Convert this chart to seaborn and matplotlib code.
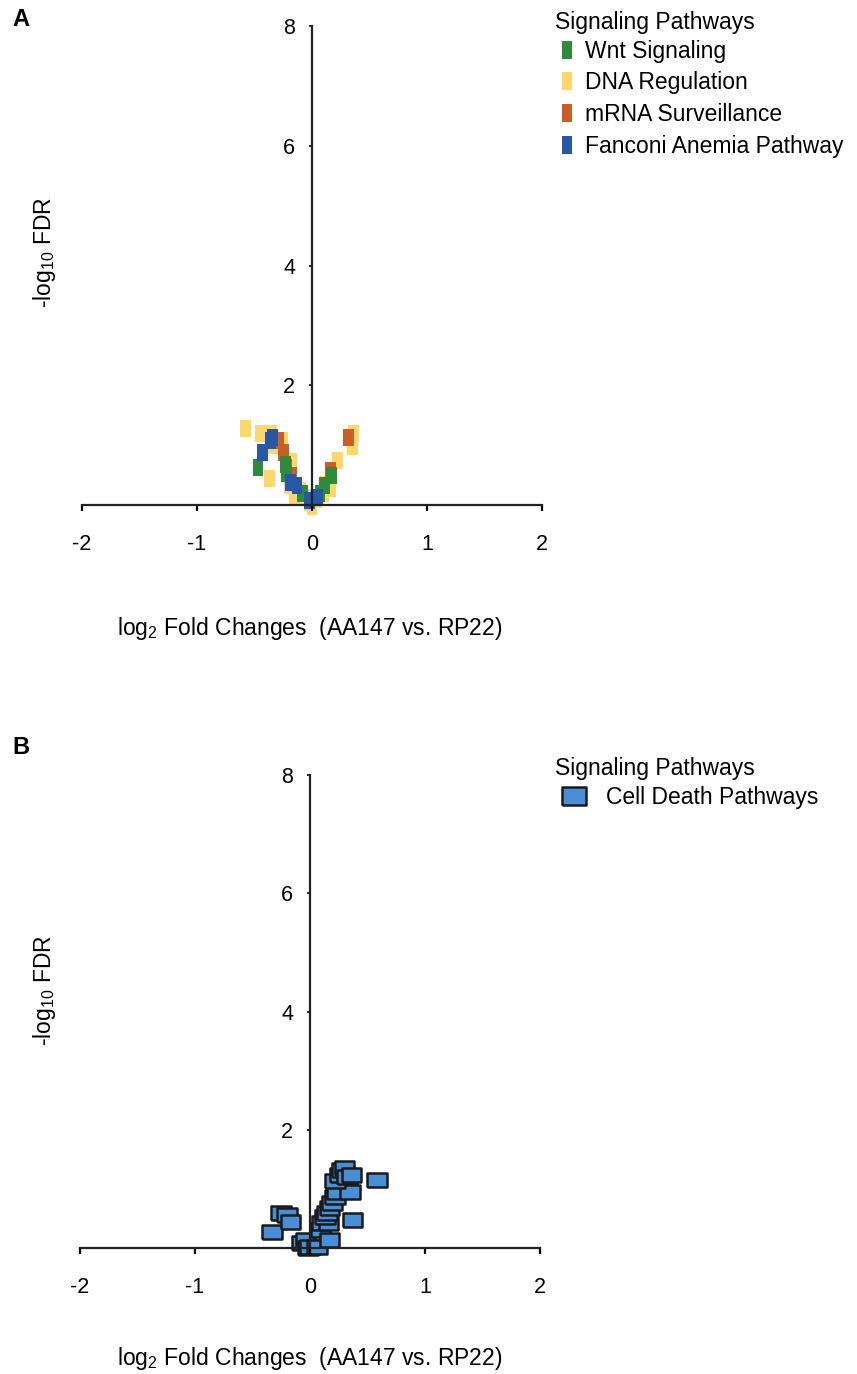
import numpy as np
import pandas as pd
import seaborn as sns
import matplotlib.pyplot as plt

# panel A: log2 fold change / -log10 FDR per gene, grouped by pathway
dna_x = [-0.58, -0.45, -0.35, -0.37, -0.34, -0.26, -0.18, -0.20, -0.15, -0.02, 0.00, 0.04,
         0.10, 0.16, 0.22, 0.35, 0.36, -0.10, -0.06, 0.12]
dna_y = [1.28, 1.20, 1.20, 0.45, 1.00, 1.07, 0.73, 0.33, 0.15, 0.05, -0.02, 0.10,
         0.20, 0.28, 0.75, 0.98, 1.20, 0.25, 0.12, 0.35]
mrna_x = [-0.29, -0.25, -0.18, 0.32, 0.16, -0.22]
mrna_y = [1.08, 0.87, 0.50, 1.12, 0.57, 0.62]
wnt_x = [-0.47, -0.23, -0.22, -0.08, 0.07, 0.11, 0.17]
wnt_y = [0.62, 0.67, 0.53, 0.20, 0.20, 0.32, 0.50]
fan_x = [-0.34, -0.36, -0.43, -0.19, -0.13, -0.02, 0.05]
fan_y = [1.12, 1.07, 0.87, 0.37, 0.33, 0.07, 0.12]

pathways = ["Wnt Signaling", "DNA Regulation", "mRNA Surveillance", "Fanconi Anemia Pathway"]
colors = ["#2f8a3c", "#fdd76a", "#c95f26", "#2857a6"]

# panel B: cell death pathway genes
cd_x = [-0.33, -0.25, -0.20, -0.17, -0.07, -0.04, -0.02, 0.00, 0.06, 0.09, 0.17, 0.10,
        0.16, 0.13, 0.15, 0.17, 0.19, 0.22, 0.23, 0.35, 0.22, 0.26, 0.28, 0.30, 0.32,
        0.36, 0.37, 0.58]
cd_y = [0.27, 0.59, 0.56, 0.44, 0.08, 0.14, 0.00, 0.02, 0.02, 0.30, 0.14, 0.42,
        0.42, 0.53, 0.59, 0.68, 0.76, 0.86, 0.95, 0.95, 1.14, 1.24, 1.32, 1.36, 1.20,
        1.24, 0.47, 1.15]

plt.rcParams['font.family'] = ['Liberation Sans', 'DejaVu Sans']
plt.rcParams['mathtext.fontset'] = 'custom'
plt.rcParams['mathtext.rm'] = 'Liberation Sans'
plt.rcParams['mathtext.default'] = 'regular'
plt.rcParams['axes.unicode_minus'] = False

df_a = pd.concat([
    pd.DataFrame({"fc": dna_x, "fdr": dna_y, "pathway": "DNA Regulation"}),
    pd.DataFrame({"fc": mrna_x, "fdr": mrna_y, "pathway": "mRNA Surveillance"}),
    pd.DataFrame({"fc": wnt_x, "fdr": wnt_y, "pathway": "Wnt Signaling"}),
    pd.DataFrame({"fc": fan_x, "fdr": fan_y, "pathway": "Fanconi Anemia Pathway"}),
], ignore_index=True)
df_b = pd.DataFrame({"fc": cd_x, "fdr": cd_y, "pathway": "Cell Death Pathways"})

W, H = 857, 1374
fig = plt.figure(figsize=(W / 100, H / 100), dpi=100)

tall = [(-0.32, -0.5), (0.32, -0.5), (0.32, 0.5), (-0.32, 0.5), (-0.32, -0.5)]
wide = [(-0.5, -0.36), (0.5, -0.36), (0.5, 0.36), (-0.5, 0.36), (-0.5, -0.36)]


def px_axes(left, right, top, y0, ymin=-0.25):
    # top = pixel of y=8, y0 = pixel of y=0
    ppu = (y0 - top) / 8.0
    bottom = y0 - ymin * ppu
    return fig.add_axes([left / W, 1 - bottom / H, (right - left) / W, (bottom - top) / H])


def style(ax):
    ax.set_xlim(-2, 2)
    ax.set_ylim(-0.25, 8)
    for s in ['top', 'right']:
        ax.spines[s].set_visible(False)
    ax.spines['left'].set_position(('data', 0))
    ax.spines['bottom'].set_position(('data', 0))
    ax.spines['left'].set_bounds(0, 8)
    for s in ['left', 'bottom']:
        ax.spines[s].set_linewidth(1.6)
        ax.spines[s].set_color('#222222')
    ax.set_xticks([-2, -1, 0, 1, 2])
    ax.set_yticks([2, 4, 6, 8])
    ax.tick_params(axis='x', direction='out', length=4, width=1.6, pad=17, labelsize=15.5)
    ax.tick_params(axis='y', direction='out', length=2, width=1.2, pad=10, labelsize=15.5)
    ax.set_xlabel("")
    ax.set_ylabel("")


axA = px_axes(82, 542, 26, 505)
sns.scatterplot(data=df_a, x="fc", y="fdr", hue="pathway", hue_order=pathways,
                palette=colors, marker=tall, s=150, linewidth=0, ax=axA)
style(axA)
leg = axA.legend(title="Signaling Pathways", loc='upper left', bbox_to_anchor=(546 / W, 1 - 2 / H),
                 bbox_transform=fig.transFigure, frameon=False, fontsize=16.5, title_fontsize=16.5,
                 handletextpad=0.3, labelspacing=0.38, handlelength=1.0, borderaxespad=0)
leg._legend_box.align = "left"
leg._legend_box.sep = 4

axB = px_axes(80, 540, 775, 1248)
sns.scatterplot(data=df_b, x="fc", y="fdr", hue="pathway", palette=["#4a8fd6"],
                marker=wide, s=200, edgecolor="#1a1a1a", linewidth=1.8, ax=axB)
style(axB)
legB = axB.legend(title="Signaling Pathways", loc='upper left', bbox_to_anchor=(546 / W, 1 - 748 / H),
                  bbox_transform=fig.transFigure, frameon=False, fontsize=16.5, title_fontsize=16.5,
                  handletextpad=0.6, labelspacing=0.4, handlelength=1.6, borderaxespad=0,
                  markerscale=1.25)
legB._legend_box.align = "left"
legB._legend_box.sep = 4

for y_lab, y_x, y_y in [(629, 45, 252), (1358, 45, 990)]:
    fig.text(310 / W, 1 - y_lab / H, "log$_2$ Fold Changes  (AA147 vs. RP22)",
             ha='center', va='center', fontsize=16.5)
    fig.text(y_x / W, 1 - y_y / H, "-log$_{10}$ FDR", rotation=90,
             ha='center', va='center', fontsize=16.5)

fig.text(12 / W, 1 - 20 / H, "A", fontsize=17, fontweight='bold', va='center')
fig.text(12 / W, 1 - 748 / H, "B", fontsize=17, fontweight='bold', va='center')

fig.savefig("out.png", dpi=100)
